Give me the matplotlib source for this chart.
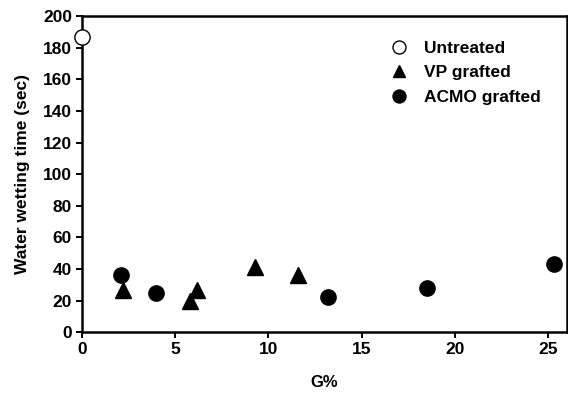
import matplotlib.pyplot as plt

plt.rcParams['font.family'] = ['Liberation Sans', 'DejaVu Sans']
plt.rcParams['font.weight'] = 'bold'

# data
untreated_x = [0.0]
untreated_y = [187]
vp_x = [2.2, 5.8, 6.2, 9.3, 11.6]
vp_y = [27, 20, 27, 41, 36]
acmo_x = [2.1, 4.0, 13.2, 18.5, 25.3]
acmo_y = [36, 25, 22, 28, 43]

fig = plt.figure(figsize=(5.68, 3.95), dpi=100)
ax = fig.add_axes([0.144, 0.159, 0.854, 0.800])

ax.plot(untreated_x, untreated_y, 'o', ms=11, mfc='white', mec='black', mew=1.0,
        label='Untreated', clip_on=False, zorder=5)
ax.plot(vp_x, vp_y, '^', ms=11, color='black', label='VP grafted', clip_on=False)
ax.plot(acmo_x, acmo_y, 'o', ms=11, color='black', label='ACMO grafted', clip_on=False)

ax.set_xlim(0, 26)
ax.set_ylim(0, 200)
ax.set_xticks([0, 5, 10, 15, 20, 25])
ax.set_yticks(range(0, 201, 20))
ax.set_xlabel('G%', fontsize=12, fontweight='bold', labelpad=13)
ax.set_ylabel('Water wetting time (sec)', fontsize=12.5, fontweight='bold', labelpad=9)

for sp in ax.spines.values():
    sp.set_linewidth(1.8)
ax.tick_params(direction='out', length=4, width=1.4, labelsize=12.5, pad=3)
for lab in ax.get_xticklabels() + ax.get_yticklabels():
    lab.set_fontweight('bold')

leg = ax.legend(loc='upper right', bbox_to_anchor=(0.96, 0.945), frameon=False,
                fontsize=12.5, markerscale=0.85, handletextpad=0.6,
                labelspacing=0.55, borderaxespad=0, handlelength=1.6)
for t in leg.get_texts():
    t.set_fontweight('bold')

fig.savefig('out.png', dpi=100)
